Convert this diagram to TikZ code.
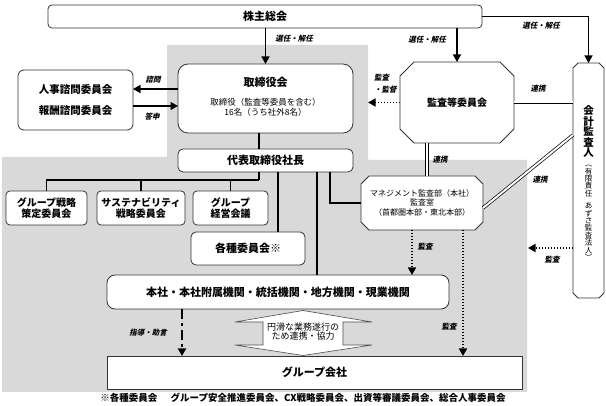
\documentclass[tikz,border=0pt]{standalone}
\usepackage{fontspec}
\setmainfont{Noto Sans CJK JP}
\newfontfamily\lblfont{Noto Sans CJK JP}[FakeSlant=0.22]
\usetikzlibrary{arrows.meta}

\newcommand\chamferbox[2]{%
  \path[box] ([xshift=#2]#1.north west) -- ([xshift=-#2]#1.north east) -- ([yshift=-#2]#1.north east) -- ([yshift=#2]#1.south east) -- ([xshift=-#2]#1.south east) -- ([xshift=#2]#1.south west) -- ([yshift=#2]#1.south west) -- ([yshift=-#2]#1.north west) -- cycle;}

\tikzset{
  box/.style={draw=black!80, line width=0.8pt, fill=white},
  rbox/.style={box, rounded corners=#1, inner sep=0pt, outer sep=0pt},
  hold/.style={inner sep=0pt, outer sep=0pt},
  ttl/.style={font=\bfseries\fontsize{11}{12}\selectfont, inner sep=0pt},
  sub/.style={font=\fontsize{8.5}{9.5}\selectfont, align=center, inner sep=0pt},
  cbox/.style={rbox=4pt, minimum height=34pt, font=\bfseries\fontsize{10}{10.5}\selectfont, align=center},
  lbl/.style={font=\lblfont\bfseries\fontsize{7.5}{12}\selectfont, inner sep=0pt},
  ln/.style={line width=1.4pt, black},
  tip/.style={-{Triangle[length=7.5pt,width=8pt]}},
  arr/.style={ln, tip},
  dotarr/.style={line width=1.5pt, dash pattern=on 1.5pt off 1.5pt, tip},
  dasharr/.style={line width=1.8pt, dash pattern=on 10pt off 4pt on 3pt off 4pt, tip},
  dbl/.style={draw=black, double=white, double distance=2pt, line width=0.7pt}
}

\begin{document}
\begin{tikzpicture}[x=1pt,y=-1pt]
\useasboundingbox (0,0) rectangle (606,406);
% gray background
\fill[gray!30] (2,157) -- (167,157) -- (167,45) -- (368,45) -- (368,160) -- (527,160) -- (527,392) -- (2,392) -- cycle;

% boxes
\node[rbox=4pt, minimum width=434pt, minimum height=23pt, ttl] (gm) at (265,16.5) {株主総会};
\node[rbox=10pt, minimum width=175pt, minimum height=69pt] (board) at (265.5,98.5) {};
\node[ttl] (boardT) at (265.5,82) {取締役会};
\node[sub] (boardS) at (265.5,107.5) {取締役（監査等委員を含む）\\16名（うち社外8名）};
\node[rbox=6pt, minimum width=115pt, minimum height=60pt, align=center, font=\bfseries\fontsize{10.5}{21}\selectfont] (adv) at (75.5,100) {人事諮問委員会\\報酬諮問委員会};

\node[hold, minimum width=114pt, minimum height=81pt] (ac) at (457,102.5) {};
\chamferbox{ac}{14pt}
\node[ttl, font=\bfseries\fontsize{10}{11}\selectfont] (acT) at (ac) {監査等委員会};

\node[hold, minimum width=31pt, minimum height=235pt] (acct) at (588.5,180.5) {};
\chamferbox{acct}{5pt}
\node[font=\bfseries\fontsize{10.5}{10.5}\selectfont, align=center, inner sep=0pt] (acctT) at (588.5,131.5) {会\\計\\監\\査\\人};
\node[font=\fontsize{7.5}{7.4}\selectfont, align=center, inner sep=0pt] (acctS) at (588.5,213) {︵\\有\\限\\責\\任\\[5pt]あ\\ず\\さ\\監\\査\\法\\人\\︶};

\node[rbox=5pt, minimum width=175pt, minimum height=23pt, ttl] (pres) at (265.5,160.5) {代表取締役社長};

\node[cbox, minimum width=81pt] (c1) at (46.5,208) {グループ戦略\\策定委員会};
\node[cbox, minimum width=88pt] (c2) at (141,208) {サステナビリティ\\戦略委員会};
\node[cbox, minimum width=75pt] (c3) at (230.5,208) {グループ\\経営会議};
\node[rbox=5pt, minimum width=114pt, minimum height=33pt, ttl] (c4) at (248,248.5) {各種委員会※};

\node[hold, minimum width=122pt, minimum height=54pt] (mg) at (422,203) {};
\chamferbox{mg}{8pt}
\node[sub, font=\fontsize{8}{9.5}\selectfont] (mgT) at (422,202.5) {マネジメント監査部（本社）\\監査室\\（首都圏本部・東北本部）};

\node[rbox=8pt, minimum width=342pt, minimum height=34pt, ttl] (hq) at (278,292) {本社・本社附属機関・統括機関・地方機関・現業機関};
\node[box, inner sep=0pt, outer sep=0pt, minimum width=415pt, minimum height=33pt, ttl] (grp) at (314.5,372.5) {グループ会社};

% cooperation double arrow
\filldraw[draw=black!70, fill=white, line width=0.6pt] (303,310.5) -- (372,322) -- (343,322) -- (343,345) -- (372,345) -- (303,355.5) -- (235,345) -- (263,345) -- (263,322) -- (235,322) -- cycle;
\node[font=\fontsize{9}{9.5}\selectfont, align=center, inner sep=0pt] (coop) at (303,331.5) {円滑な業務遂行の\\ため連携・協力};

% connectors
\draw[arr] (board.north |- gm.south) -- (board.north);
\draw[arr] (ac.north |- gm.south) -- (ac.north);
\draw[arr] (gm.east) -| (acct.north);
\draw[arr] ([yshift=9.5pt]board.west) -- ([yshift=9.5pt]board.west -| adv.east);
\draw[arr] ([yshift=-7.5pt]board.west -| adv.east) -- ([yshift=-7.5pt]board.west);
\coordinate (bdedge) at (368,102.5);
\draw[dotarr] (ac.west) -- (bdedge);
\draw[dbl] (ac.east) -- (ac.east -| acct.west);
\draw[dbl] ([xshift=5pt]mg.north |- ac.south) -- ([xshift=5pt]mg.north);
\draw[dbl] ([yshift=45.5pt]acct.west) -- ([yshift=-5pt]mg.east);
\draw[ln] ([xshift=-6.5pt]board.south) -- ([xshift=-6.5pt]pres.north);
\coordinate (tree) at (259,180);
\draw[ln] ([xshift=-6.5pt]pres.south) -- (tree);
\draw[ln] (c1.north) |- (tree);
\draw[ln] (c2.north) |- (tree);
\draw[ln] (c3.north) |- (tree);
\draw[ln] ([xshift=12.5pt]pres.south) -- ([xshift=12.5pt]pres.south |- c4.north);
\draw[ln] ([xshift=51.5pt]pres.south) -- ([xshift=51.5pt]pres.south |- hq.north);
\draw[ln] ([xshift=64.5pt]pres.south) |- (mg.west);
\draw[dotarr] ([xshift=-10pt]mg.south) -- ([xshift=-10pt]mg.south |- hq.north);
\draw[dotarr] ([xshift=41pt]mg.south) -- ([xshift=41pt]mg.south |- grp.north);
\coordinate (gredge) at (528,248);
\draw[dotarr] (acct.west |- gredge) -- (gredge);
\draw[dasharr] ([xshift=-96pt]hq.south) -- ([xshift=-96pt]hq.south |- grp.north);

% labels
\node[lbl] (l1) at (294,39) {選任・解任};
\node[lbl] (l2) at (427,40) {選任・解任};
\node[lbl] (l3) at (541,26) {選任・解任};
\node[lbl] (l4) at (153,80) {諮問};
\node[lbl] (l5) at (152,117) {答申};
\node[lbl, align=left, anchor=west] (l6) at (374,84) {監査\\・監督};
\node[lbl] (l7) at (538,89) {連携};
\node[lbl] (l8) at (440,160) {連携};
\node[lbl] (l9) at (540,180) {連携};
\node[lbl] (l10) at (425,247) {監査};
\node[lbl] (l11) at (449,327) {監査};
\node[lbl] (l12) at (552,260) {監査};
\node[lbl] (l13) at (148,333) {指導・助言};

% footnote
\node[font=\bfseries\fontsize{9.5}{11}\selectfont, inner sep=0pt] (note) at (303,398) {※各種委員会\hspace{1.4em}グループ安全推進委員会、CX戦略委員会、出資等審議委員会、総合人事委員会};
\end{tikzpicture}
\end{document}
